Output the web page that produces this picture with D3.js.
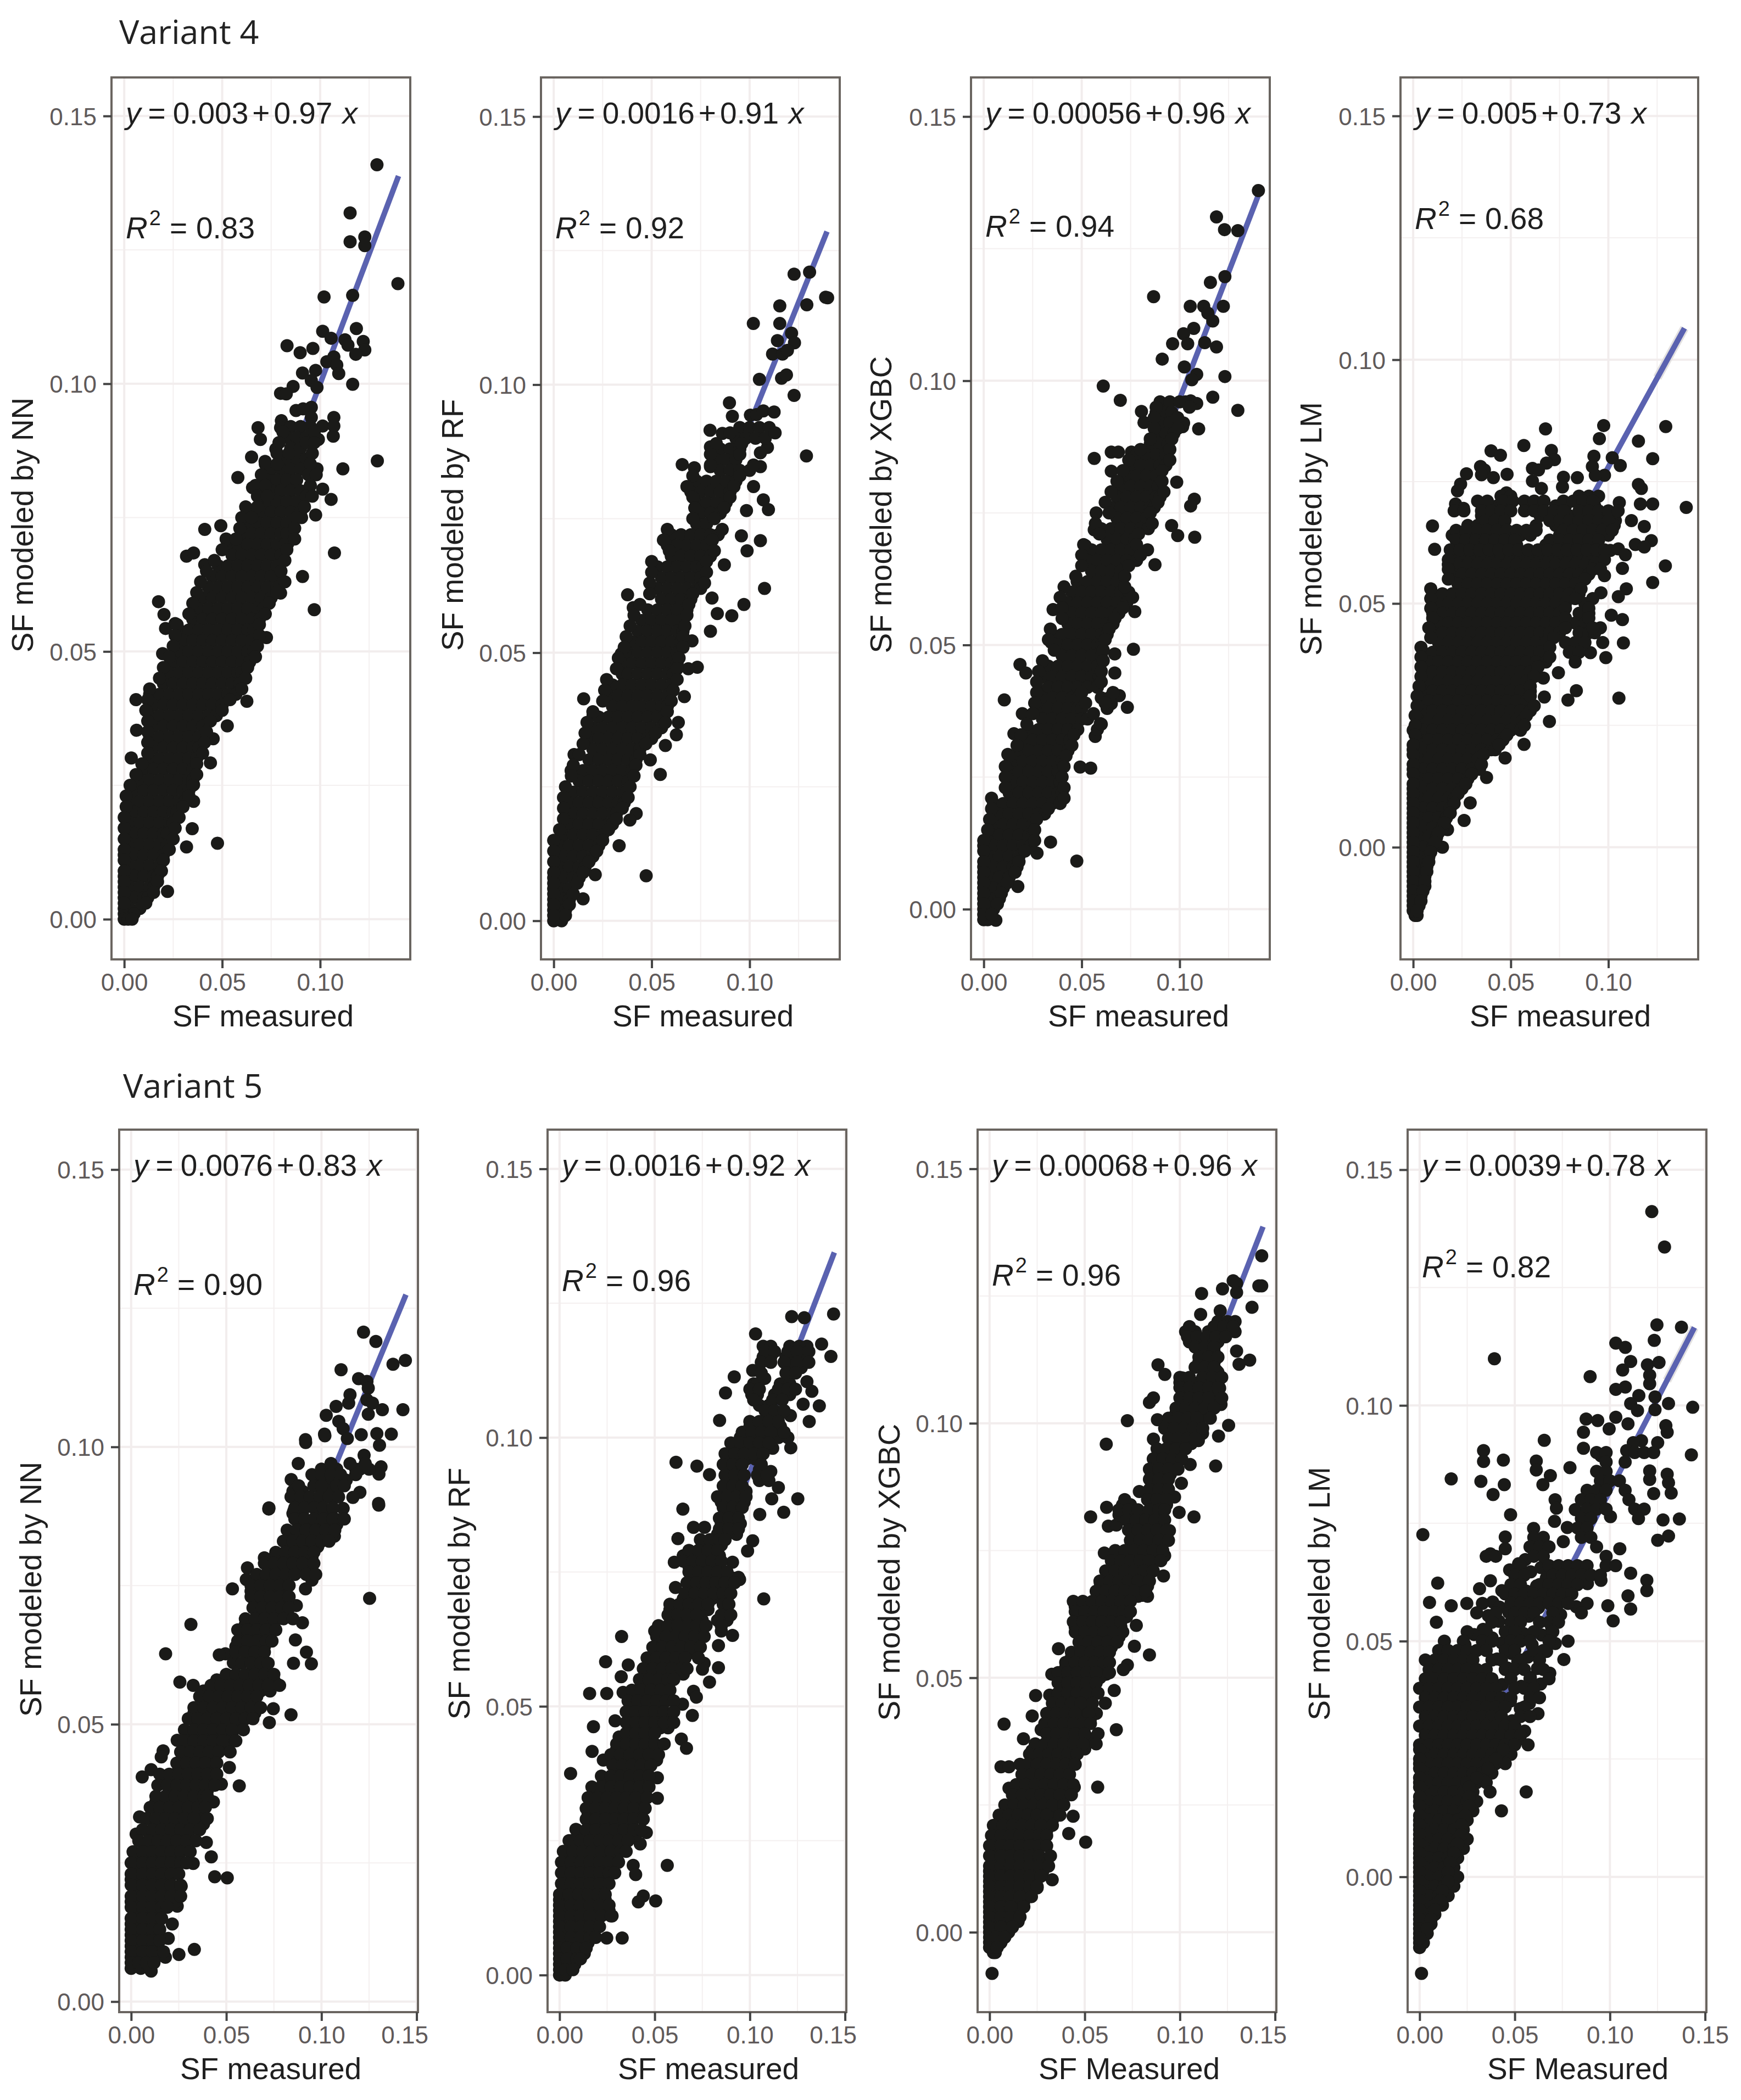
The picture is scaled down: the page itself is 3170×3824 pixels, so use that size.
<!DOCTYPE html>
<html>
<head>
  <style>
    body {
      margin: 0;
      background: #fff;
      font-family: "Liberation Sans", sans-serif;
    }
    .tick-label { font-size: 44px; fill: #5f5a5a; }
    .axis-title { font-size: 55px; fill: #1f1f1f; text-anchor: middle; }
    .note { font-size: 55px; fill: #1f1f1f; }
    .variant { font-family: "Open Sans", sans-serif; font-size: 61px; fill: #222; }
  </style>
</head>
<body>
  <script src="https://d3js.org/d3.v7.min.js"></script>
  <script>
    // all values below are SF x 1000
    // *Out: single points as [x, y]. *Core and *Fill: dense band, rows as [y, x, x, x...]
    var v4nnOut = [[129,140.9],[115.3,131.9],[115.3,126.5],[122.8,127.4],[122.8,125.8],[139.7,118.7],[116.6,116.5],[102,116.2],[118.5,110.3],[101.3,109.8],[105.6,108.5],[112.7,108.2],[114.2,107.2],[83.1,107.1],[89.8,105.8],[96.3,106.6],[122,107.9],[122.8,106.3],[118.2,105.5],[107,105],[103.4,104.1],[108.5,103.5],[109.5,101.9],[91,102],[97.7,102.5],[116.6,99.9],[95.5,100.6],[98.4,99.3],[86.2,99.5],[79.8,98.2],[82.7,98.1],[95.5,95.6],[87.7,95],[91.3,95.3],[95.5,93.7],[80.2,93.1],[79.8,91.8],[107,93.7],[101.3,92.1],[107,92.1],[106.7,90.2],[68.3,91.8],[69.5,89.6],[99.1,89.6],[77.4,87.8],[65,86.3],[71.9,85.5],[129.2,85.6],[111.6,84.1],[58,82.5],[98.4,84.1],[65.5,80.6],[101.3,80.3],[105.6,78.4],[94.1,80.3],[97.7,75.5],[90.5,75],[41.1,72.8],[49.3,73.5],[64,75.5],[107.3,68.4],[91,64],[97,57.8],[72.6,52.6],[79.8,60.9],[79,63.4],[79.8,66.5],[83.4,70.1],[31.8,67.8],[35.4,68.4],[41.1,66.2],[17.5,59.3],[20.3,56.9],[21.1,54.3],[26,55.2],[19.6,49.6],[6,41],[6.3,35.3],[3.6,30.1],[2.4,22.4],[47.6,14.2],[31.8,13.5],[22.1,5.2],[34.7,16.9],[62.6,40.7],[52.6,36.1],[45.4,33.7],[44,29.2],[35.4,25.1],[35.4,22]];
    var v4nnCore = [[92,85,90,95],[90,83,88,93],[88,85,90],[86,83,88,93],[84,75,80,85,90],[82,73,78,83,88],[80,70,75,80,85,90],[78,73,78,83,88],[76,70,75,80,85,90],[74,63,68,73,78,83],[72,60,65,70,75,80,83],[70,53,58,63,68,73,78,82],[68,55,60,65,70,75,80],[66,48,53,58,63,68,73,78],[64,45,50,55,60,65,70,75],[62,43,48,53,58,63,68,73,78],[60,40,45,50,55,60,65,70,75],[58,38,43,48,53,58,63,68,71],[56,35,40,45,50,55,60,65,69],[54,28,33,38,43,48,53,58,63,66],[52,30,35,40,45,50,55,60,65],[50,28,33,38,43,48,53,58,63,66],[48,25,30,35,40,45,50,55,60,64],[46,23,28,33,38,43,48,53,58,60],[44,20,25,30,35,40,45,50,55,59],[42,13,18,23,28,33,38,43,48,53,57],[40,15,20,25,30,35,40,45,50],[38,13,18,23,28,33,38,43,47],[36,15,20,25,30,35,40],[34,13,18,23,28,33,38],[32,15,20,25,30,35,38],[30,13,18,23,28,33,37],[28,10,15,20,25,30,35],[26,8,13,18,23,28,33,35],[24,5,10,15,20,25,30,33],[22,3,8,13,18,23,28,31],[20,5,10,15,20,25,27],[18,3,8,13,18,23,25],[16,5,10,15,20,22],[14,3,8,13,18,22],[12,0,5,10,15,20],[10,3,8,13,18],[8,0,5,10,15,17],[6,0,3,8,13,15],[4,0,5,10,12],[2,0,3,8],[1,0,5],[0,0,2,4]];
    var v4nnFill = [[91,81,97],[89,79,93,97],[87,78,84,96],[85,72,78,95],[83,70,94,98],[81,67,72,95],[79,68,73,93,96],[77,62,68,92],[75,60,65,88],[73,59,87],[71,52,57,87],[69,50,83],[67,46,82],[65,42,80],[63,39,82],[61,37,78],[59,35,74],[57,33,72],[55,27,69],[53,26,69],[51,25,68],[49,23,67],[47,20,63],[45,18,62],[43,13,60],[41,12,54],[39,11,50],[37,12,44],[35,12,42],[33,12,41],[31,12,40],[29,9,37],[27,6,37],[25,3,35],[23,1,33],[21,1,30],[19,0,28],[17,0,26],[15,0,25],[13,0,23],[11,0,20],[9,0,19],[7,0,17],[5,0,15],[3,0,11]];

    var v4rfOut = [[139.8,116.2],[129.2,114.9],[115.4,114.7],[101.9,111.4],[115.4,111.4],[122.7,120.6],[121.4,109.6],[114.2,108.2],[122.9,107.8],[111.7,105.7],[116.8,105.7],[119.3,106.4],[105,101],[116.3,101.2],[118.8,101.8],[122.7,98],[89.7,96.6],[100.4,94.3],[103.5,94.4],[107,95.1],[112.5,94.9],[91.2,94.1],[79.8,91.5],[86.1,90.9],[129,86.7],[109.1,88.3],[105.5,87.3],[105.5,84.7],[65.6,85.1],[71.8,84.5],[80,88.4],[80,84.7],[102,81],[107,78.5],[109.6,76.7],[98.4,76.5],[95.8,71.8],[105.5,70.9],[98.7,69],[87.1,66.4],[107.6,62],[97.1,59],[90.9,56.9],[83.5,57.3],[80,54],[80.8,60.2],[70.6,52.2],[73.3,47.3],[68.7,47],[66.7,41.8],[37.7,60.8],[40.6,58.4],[34.5,49.8],[15.3,41.4],[63.6,37],[62.6,34.7],[57,32.7],[49.3,30],[54.4,27.3],[42.1,20],[38.9,18.8],[33.4,14],[47.2,8.4],[21.2,8.6],[15,4.1],[10.4,31],[8.9,28],[20.1,38.4],[130.6,121],[138.8,116.3]];
    var v4rfCore = [[92,95,100,105,110],[90,93,98,103,108],[88,85,90,95],[86,83,88,93],[84,85,90,95,100],[82,73,78,83,88,93],[80,70,75,80,85,90],[78,73,78,83,88],[76,75,80,85],[74,73,78],[72,60,65,70,75,80,84],[70,58,63,68,73,78],[68,60,65,70,75,80],[66,53,58,63,68,73,76],[64,55,60,65,70,75],[62,53,58,63,68,73,75],[60,55,60,65,70],[58,48,53,58,63,68],[56,45,50,55,60,65],[54,43,48,53,58,63,66],[52,40,45,50,55,60,65],[50,38,43,48,53,58,63],[48,35,40,45,50,55,60,63],[46,35,38,43,48,53,58,61],[44,30,35,40,45,50,55,60],[42,28,33,38,43,48,53,58],[40,30,35,40,45,50,55,58],[38,23,28,33,38,43,48,53,56],[36,20,25,30,35,40,45,50,55],[34,18,23,28,33,38,43,48,50],[32,20,25,30,35,40,44],[30,18,23,28,33,38,42],[28,11,15,20,25,30,35,40],[26,13,18,23,28,33,38],[24,10,15,20,25,30,35,37],[22,8,13,18,23,28,33,36],[20,10,15,20,25,30,32],[18,8,13,18,23,28,30],[16,5,10,15,20,25],[14,3,8,13,18,23],[12,5,10,15,20],[10,3,8,13,16],[8,0,5,10,13],[6,0,3,8],[4,0,5,8],[2,0,3,6],[0,0,4]];
    var v4rfFill = [[91,90,113],[89,83,96],[87,80,95],[85,80,102],[83,71,95],[81,68,92],[79,71,90],[77,72,87],[75,71,82],[73,58,86],[71,56,81],[69,59,82],[67,50,78],[65,50,78],[63,49,77],[61,49,71],[59,44,69],[57,41,68],[55,39,67],[53,37,66],[51,36,66],[49,33,64],[47,32,63],[45,27,63],[43,26,61],[41,25,60],[39,20,58],[37,17,57],[35,16,52],[33,15,47],[31,13,44],[29,10,42],[27,9,41],[25,6,39],[23,5,38],[21,5,35],[19,5,32],[17,3,28],[15,0,25],[13,0,22],[11,0,18],[9,0,15],[7,0,12],[5,0,10],[3,0,8],[1,0,6]];

    var v4xgOut = [[140.2,136],[118.8,131],[122.9,128.6],[129.7,128.4],[115.7,118.6],[123.1,119.7],[86.7,115.9],[105.4,114.1],[112.3,114.1],[122.3,114.1],[114.4,112.8],[116.9,111.3],[107.2,109.9],[102,108.9],[96.4,107],[104.1,107],[112.8,107.2],[118.8,106.4],[91.1,104.1],[102.4,102.6],[108.7,101.2],[106.2,100.2],[123.1,100.8],[61,99],[69.7,96.3],[116.9,96.9],[129.7,94.4],[108.7,95.7],[105.6,96.2],[109.7,90.9],[101.5,91.3],[80.5,94.2],[81.8,92.1],[56.4,85.3],[65.1,86.5],[68.7,86.5],[75.4,86.5],[65.1,82.9],[98.5,80.8],[107.5,77.6],[105.6,76.3],[95.9,72.6],[99,70.7],[107.7,70.4],[83.6,68],[87.4,65.2],[77.1,56.3],[76.4,49.2],[66.9,48.3],[66.9,44.7],[73.3,38.2],[69.2,40.4],[65.1,38.9],[49.2,26.9],[54.6,26.7],[34.1,12.7],[47.5,9.1],[27.2,10.6],[10.5,39.6],[18.5,46.3],[21.5,44.7],[19.7,37],[15.4,33.2],[12.3,29.3],[35.4,56.7],[57.4,75],[56.4,71.8],[51.8,68.8],[47.7,62],[34.4,50.5],[28.7,44.7],[28.2,41.3],[56.9,32.7],[59.5,35.1],[17.4,4.3],[6.2,-2.1]];
    var v4xgCore = [[96,90,95,100,103],[94,88,93,96],[92,90,95,100,102],[90,88,93,97],[88,85,90,94],[86,78,83,88,93],[84,75,80,85,90,93],[82,73,78,83,88],[80,70,75,80,85,89],[78,68,73,78,83,88,90],[76,65,70,75,80,85,87],[74,68,73,78,83],[72,60,65,70,75,80,84],[70,63,68,73,77],[68,55,60,65,70,75],[66,53,58,63,68,73,78],[64,55,60,65,70],[62,48,53,58,63,68],[60,45,50,55,60,65,70,74],[58,43,48,53,58,63,68,73],[56,45,50,55,60,65,69],[54,43,48,53,58,63,66],[52,35,40,45,50,55,60,63],[50,38,43,48,53,58,60],[48,40,45,50,55,60],[46,33,38,43,48,53,58],[44,30,35,40,45,50,55,59],[42,33,38,43,48,53,58],[40,30,35,40,45,48,60,64],[38,28,33,38,43,48,50,63],[36,30,35,40,45,50,53],[34,23,28,33,38,43,48,58],[32,20,25,30,35,40,44],[30,18,23,28,33,38,43],[28,15,20,25,30,35,40],[26,13,18,23,28,33,38],[24,15,20,25,30,35,39],[22,13,18,23,28,33,38,40],[20,5,10,15,20,25,30,35,39],[18,8,13,18,23,28,31],[16,5,10,15,20,25],[14,3,8,13,18,23,25],[12,0,5,10,15,20,24],[10,3,8,13,18],[8,0,5,10,15,17],[6,0,3,8,13],[4,0,5,10],[2,0,3,8],[0,0,5],[-2,0,2]];
    var v4xgFill = [[95,88,105],[93,87,99],[91,87,99],[89,85,96],[87,80,95],[85,74,95],[83,71,91],[81,68,91],[79,65,92],[77,62,89],[75,64,85],[73,57,86],[71,59,79],[69,51,78],[67,50,80],[65,50,74],[63,47,72],[61,41,72],[59,39,76],[57,40,71],[55,40,67],[53,34,64],[51,33,62],[49,36,61],[47,30,61],[45,28,60],[43,27,60],[41,27,50,66],[39,26,52,62],[37,25,56],[35,22,60],[33,19,46],[31,17,45],[29,13,42],[27,11,41],[25,11,40],[23,11,41],[21,4,41],[19,4,33],[17,3,27],[15,2,26],[13,0,26],[11,0,21],[9,0,18],[7,0,16],[5,0,12],[3,0,9],[1,0,7],[-1,0,4]];

    var v4lmOut = [[67.8,85.8],[97.6,86.5],[129.4,86.3],[95.4,83.8],[56.7,82.4],[39.9,81.3],[44.7,80.4],[115.4,83.3],[70.8,81.4],[122.7,79.7],[72.4,79.5],[68.3,78.8],[92.6,80.2],[102,79.9],[106.1,78.3],[91.8,78.1],[61.1,77.7],[64.2,77.4],[34.5,78.1],[36.5,77.4],[27.3,76.6],[35,76.4],[41.1,75.8],[48.1,76.5],[61.1,75.1],[98,76.3],[93.3,76.3],[77,75.9],[84.1,75.8],[65.7,73.6],[24.3,74.5],[22.7,73.1],[115.4,74.4],[116.9,73.6],[76.5,73.9],[116.4,70.4],[122.7,70.4],[139.9,69.7],[105.6,70.7],[21.7,70.4],[25.8,69.5],[47.8,72.7],[47.3,68.8],[111.8,67],[118.4,65.8],[103.6,67],[9.9,65.9],[11,61.1],[122,62.9],[113.8,62.1],[118.4,61.6],[101,60.9],[105.1,61.2],[108.7,60],[107.2,57.2],[129.2,57.7],[122.7,54.3],[98,55.7],[96.2,52.2],[109.2,53],[105.1,51.4],[101.5,47.6],[107.2,46.7],[95.9,45],[97.1,42],[107.7,41.9],[98.7,38.9],[90.8,39.9],[74.4,35.8],[83.6,32.1],[79.3,30.2],[105.4,30.6],[69.8,25.8],[66.7,34.7],[67.2,30.8],[56.8,21.1],[47.1,18.3],[37.6,14.3],[29.2,9.1],[26.1,5.5],[17.6,3.6],[15,0]];
    var v4lmCore = [[72,45,50,85,90,95],[70,38,43,58,63,73,78,88,93],[68,35,40,45,65,70,80,85,90,95],[66,28,33,38,43,63,73,78,83,88,93,103],[64,20,25,30,35,40,45,50,55,60,75,80,85,90,95,100],[62,23,28,33,38,43,48,53,68,73,78,83,88,93],[60,20,25,30,35,40,45,50,55,60,65,70,75,80,85,90,95],[58,18,23,28,33,38,43,48,53,58,63,68,73,78,83,88,93],[56,20,25,30,35,40,45,50,55,60,65,70,75,80,85,90],[54,23,28,33,38,43,48,53,58,63,68,73,78,83],[52,10,15,20,25,30,35,40,45,50,55,60,65,70,75,80,85],[50,13,18,23,28,33,38,43,48,53,58,63,68,73,78,88],[48,10,15,20,25,30,35,40,45,50,55,60,65,70,75,85,90],[46,13,18,23,28,33,38,43,48,53,58,63,68,73,83,88],[44,10,15,20,25,30,35,40,45,50,55,60,65,70,75,85,90,93],[42,13,18,23,28,33,38,43,48,53,58,63,68,78,83,88],[40,5,10,15,20,25,30,35,40,45,50,55,60,65,80,85],[38,8,13,18,23,28,33,38,43,48,53,58,63,68,83],[36,5,10,15,20,25,30,35,40,45,50,55,60],[34,8,13,18,23,28,33,38,43,48,53,58],[32,5,10,15,20,25,30,35,40,45,50,55,60],[30,3,8,13,18,23,28,33,38,43,48,53,58],[28,5,10,15,20,25,30,35,40,45,50,55,60],[26,3,8,13,18,23,28,33,38,43,48,53,56],[24,0,5,10,15,20,25,30,35,40,45,50,55],[22,3,8,13,18,23,28,33,38,43,46],[20,0,5,10,15,20,25,30,35,40,42],[18,3,8,13,18,23,28,33],[16,0,5,10,15,20,25,30,34],[14,3,8,13,18,23,28],[12,0,5,10,15,20,25],[10,0,3,8,13,18,21],[8,0,5,10,15,19],[6,0,3,8,13,17],[4,0,5,10,15],[2,0,3,8,12],[0,0,5,10],[-2,0,3,8],[-4,0,5,7],[-6,0,3,6],[-8,0,5,6],[-10,0,3,4],[-12,0,3],[-14,1,2]];
    var v4lmFill = [[71,33,38,46,51,57,62,67,77,82,87,92],[69,21,26,35,40,45,50,57,62,67,72,77,85,90,95,100,105],[67,37,42,47,70,75,80,85,90,95,100],[65,22,27,33,38,43,48,53,58,63,77,82,87,92,97,102],[63,22,27,32,37,42,47,52,70,75,80,85,90,95],[61,19,24,29,34,39,44,49,54,59,64,69,74,79,84,89,94,98],[59,18,98],[57,18,92,96],[55,18,88],[53,9,86],[51,9,83,92],[49,9,78,90],[47,10,78,90],[45,8,78,92],[43,9,72],[41,4,70],[39,4,70],[37,4,64],[35,4,62],[33,3,60],[31,2,60],[29,2,62],[27,1,58],[25,1,57],[23,1,48],[21,0,44],[19,0,36],[17,0,35],[15,0,30],[13,0,27],[11,0,23],[9,0,21],[7,0,19],[5,0,16],[3,0,13],[1,0,11],[-1,0,9],[-3,0,8],[-5,0,7],[-7,0,6],[-9,0,5],[-11,0,4],[-13,0,2]];

    var v5nnOut = [[122.1,120.7],[128.6,119],[144.1,115.6],[137.6,114.9],[110.3,113.9],[119.5,112.3],[123.9,111.8],[115,109.4],[124.6,110.6],[123.9,108.5],[107.7,107.3],[102.5,105.7],[114.3,107.9],[126.8,107.9],[132,106.7],[142.8,106.7],[124.6,105.9],[109.1,104.6],[101.8,102],[91.7,100.8],[136.7,102.3],[129.1,102.4],[120.9,102.2],[130.5,100.3],[111.4,103.3],[113.6,101.5],[122.4,98.5],[87.8,97],[131.3,96.4],[130.2,95.1],[120.2,96],[84.1,94.1],[120.2,91.8],[116.5,90.9],[130.1,89.5],[111.4,88.9],[72.3,88.8],[87,91.8],[85.5,88.5],[125.3,72.7],[72.4,89],[130,89.8],[53.2,74.4],[61.1,78.2],[60.5,76.1],[91.6,101.3],[101.6,102.3],[31.4,68],[18.1,62.7],[25.6,57.6],[32.6,57],[84,51.7],[74.7,52.8],[72.6,50.3],[76.8,57.2],[94.7,60.9],[92.1,63],[85.3,61],[90,68.3],[86.8,71.4],[86.3,65.2],[95.3,76.5],[91.6,74.4],[106.8,83.9],[107.9,86.9],[49.5,62.7],[46.3,62.5],[53.7,61.1],[51.6,42.2],[47.4,39.2],[56.8,38.9],[43.2,36],[5.8,40.5],[10.5,41.8],[16.8,45.2],[15.8,44.1],[24.2,47.1],[4.4,33.3],[39.5,28.7],[42.1,26.1],[32.6,24.9],[43.9,22.5],[50.5,22.3],[26.3,20.8],[24.2,17.2],[21.6,14],[19.5,11.4],[33.2,9.4],[25.1,8.5],[10.5,5.5],[2.6,30.2]];
    var v5nnCore = [[96,100,108,118,125],[94,98,103,108,113],[92,85,90,100,105],[90,88,93,98],[88,85,90,100,105],[86,88,93,98,103,108],[84,85,90,95,100,105],[82,83,88,93,98],[80,70,75,80,85,90,95],[78,73,78,83,88,93],[76,65,70,75,80,95],[74,63,68,73,78],[72,65,70,75,80],[70,68,73,78,81],[68,60,65,70,75],[66,58,63,68,71],[64,55,60,65,70],[62,63,68],[60,65,70],[58,45,50,55,60,65,70,75],[56,38,43,48,53,58,63,68,73],[54,40,45,50,55,60,63],[52,33,38,43,48,53,58,63,65],[50,35,40,45,50,55,57],[48,33,38,43,48,53],[46,30,35,40,45,50],[44,28,33,38,43],[42,25,30,35,40,43],[40,18,23,28,33,38,41],[38,20,25,30,35,40],[36,13,18,23,28,33,36],[34,15,20,25,30,35],[32,13,18,23,28,33,38],[30,10,15,20,25,30],[28,8,13,18,23,28],[26,2,5,10,15,20,25],[24,3,8,13,18,23],[22,0,5,10,15,20],[20,3,8,13,18,22],[18,0,5,10,15,20,23],[16,3,8,13,15],[14,0,5,10,14],[12,0,3,8,12],[10,0,5,10,13],[8,0,3,8,13,18],[6,0,5,10]];
    var v5nnFill = [[97,105,115,123],[95,95,100,105,110,118],[93,88,96,100,108,112],[91,84,89,94,99,104,109],[89,86,91,96,101,106],[87,86,91,96,101,106,112],[85,82,87,92,97,102,107],[83,80,85,90,95,100,104],[81,76,81,86,91,96],[79,70,75,80,85,90,96],[77,66,71,76,81,86,92,97],[75,63,68,73,78,83],[73,63,68,73,78,83],[71,64,69,74,79,83],[69,60,65,70,75,80,85],[67,56,61,66,71,76],[65,56,61,66,71,74],[63,55,60,65,70],[61,58,63,68,72],[59,50,55,60,65,70,75],[57,42,47,52,57,62,67,72,78],[55,36,41,46,51,56,61,66],[53,33,38,43,48,53,58,63,68],[51,30,35,40,45,50,55,60,64],[49,28,33,38,43,48,53,59],[47,28,33,38,43,48,55],[45,26,31,36,41,46,52],[43,24,29,34,39,45],[41,15,20,25,30,35,40,45],[39,14,19,24,29,34,39,44],[37,13,18,23,28,33,38,40],[35,10,15,20,25,30,35,39],[33,8,13,18,23,28,33,40],[31,6,11,16,21,26,31,36],[29,4,9,14,19,24,29,34],[27,1,6,11,16,21,26,31],[25,0,6,11,16,21,26,29],[23,0,6,11,16,21,25],[21,0,6,11,16,21,26],[19,0,6,11,16,21,26],[17,0,6,11,16,19],[15,0,6,11,16],[13,0,6,11,15],[11,0,6,11,15],[9,0,6,11,17],[7,0,4,8,12]];

    var v5rfOut = [[144,123],[122,122.5],[128.6,122.3],[103,119.3],[137.7,117.4],[142.6,115.1],[101.5,112.5],[91.8,111.3],[87.2,108.3],[107.8,111],[130,110.4],[132.6,108.6],[128,106.2],[136.5,105.9],[121.3,104.1],[84.1,103.2],[131.2,103],[116,102.1],[121.5,98.1],[61.2,95.4],[72.2,94.7],[78.8,93.1],[111,93.7],[115,90.7],[125.2,88.6],[111.5,88.6],[117.8,86.1],[105.2,85.7],[64.8,86.7],[70.4,83.3],[76.2,83.3],[77.7,80.6],[62.2,81.2],[101.5,80.8],[98.8,78.9],[60.3,76.8],[90.9,76.8],[94.6,73.6],[107.3,70],[60.9,72.1],[90.9,63.2],[83.5,61.3],[32.6,63],[24.2,58.3],[36.1,57.7],[32.4,55.5],[15.8,52.4],[24.8,52.4],[33.4,52.6],[83.5,57.2],[78.8,54.5],[75.1,56.9],[70.4,52.8],[71.9,51.7],[64.6,50.4],[69.8,48.3],[29.2,47.3],[17.8,46.2],[31.3,44.3],[64,43.9],[66.7,42.2],[17.1,41.6],[5.8,37.5],[51.4,36.7],[51.4,32.9],[45.6,26.5],[56.6,20.4],[38.7,20.4],[40,18.7],[44,14.7],[41.4,13.6],[50.5,13.8],[32.9,6.9],[24.8,6.9],[27.6,11],[42.4,24.4],[5,25],[8.6,27.1]];
    var v5rfCore = [[117,107,111,121,126,130],[115,107,111,119,124,129],[113,122,127],[110,102,104,116,121],[108,101,104,113,118,121],[106,105,110],[104,110,115],[102,100,105,111,116],[100,95,100,105,110,115,120],[98,93,98,103,108,112],[96,88,93,98,103,105],[94,90,95,105],[92,88,93,105,110],[90,88,93,98],[88,85,90,95,97],[86,88,93],[84,85,90,95],[82,83,88,93],[80,75,80,85],[78,65,70,75,80,84],[76,68,73,78,82],[74,70,75,80,85,90,94],[72,68,73,78,83,88],[70,65,70,75,80,85,88],[68,58,63,68,73,78,88],[66,60,65,70,75,83,88],[64,50,55,60,65,70,75,85],[62,53,58,63,68,73],[60,50,55,60,65,70],[58,48,53,58,63,76],[56,45,50,55,60,65],[54,43,48,53,57],[52,40,45,50,55],[50,38,43,48,53],[48,40,45,50,55],[46,38,43,48,53,57],[44,40,45,48],[42,30,35,40,45,50],[40,23,28,33,38,43,48,51],[38,30,35,40,45],[36,23,28,33,38,43],[34,20,25,30,35,40,45],[32,18,23,28,33,38,43],[30,15,20,25,30,35,40],[28,18,23,28,33,38],[26,10,15,20,25,30,35,40],[24,8,13,18,23,28,33],[22,5,10,15,20,25,30],[20,3,8,13,18,23,28],[18,5,10,15,20,25],[16,3,8,13,18,22],[14,0,5,10,15,20,24],[12,0,3,8,13,18,23,26],[10,0,5,10,15,20],[8,0,3,8,13,18],[6,0,5,10,15],[4,0,3,8,13],[2,0,5,8],[0,0,3]];
    var v5rfFill = [[116,108,113,120,125,131],[114,106,111,118,125,131],[112,106,119,124],[109,100,105,115,120,124],[107,102,112,117],[105,108,113,118],[103,100,105,110,115],[101,96,101,106,111,118],[99,90,95,100,105,110],[97,87,92,97,102,107],[95,86,91,96,106],[93,87,92,97,104,109],[91,86,91,96],[89,83,88,93,98],[87,86,91,96],[85,84,89,94],[83,84,89,94],[81,74,79,84,87],[79,68,73,78,83],[77,65,70,75,80,85],[75,68,73,78,83,88],[73,67,72,77,82,87,92],[71,66,71,76,81,86,90],[69,58,63,68,73,78,86,89],[67,57,62,67,72,85,90],[65,52,57,62,67,72,77,85],[63,51,56,61,66,71,76],[61,49,54,59,64,69,74],[59,46,51,56,61,66,73],[57,44,49,54,59,64,67],[55,42,47,52,57,60],[53,38,43,48,53,58],[51,36,41,46,51,56,60],[49,35,40,45,50,55,60],[47,35,40,45,50,55,60],[45,35,40,45,50],[43,30,35,40,45,50,55],[41,27,32,37,42,47,52],[39,28,33,38,43,48],[37,22,27,32,37,42,47],[35,17,22,27,32,37,42,47],[33,15,20,25,30,35,40,46],[31,14,19,24,29,34,39,45],[29,14,19,24,29,34,39,44],[27,9,14,19,24,29,34,39,43],[25,6,11,16,21,26,31,36],[23,2,7,12,17,22,27,32,35],[21,1,6,11,16,21,26,31],[19,1,6,11,16,21,26,29],[17,1,6,11,16,21,26],[15,0,5,10,15,20,24],[13,0,6,11,16,21,26],[11,0,6,11,16,22,27],[9,0,6,11,16,21],[7,0,6,11,16,19],[5,0,4,9,14],[3,0,4,9,11],[1,0,3,7]];

    var v5xgOut = [[143,132.9],[141.5,127],[128,128],[143,127],[111.4,125.5],[122.4,126.4],[129.8,127.5],[129.8,125.7],[137.9,122.8],[121.2,122.1],[110.9,121.4],[129.8,114.2],[136.7,112.4],[131.1,111.6],[119.3,110.3],[88.5,111.5],[92.1,109.6],[120.9,106.9],[101.4,108.9],[86.1,105],[84,104.1],[121.6,103.7],[88.2,100.7],[72.4,100.5],[125.6,99.6],[120.3,97.5],[61.3,95.9],[86.1,96.9],[111.9,98],[109.7,96.6],[118.8,91.6],[105.4,91.9],[100.8,88.2],[97.2,85.5],[99.6,82.5],[107.4,81.6],[78.7,86.6],[61.5,83.5],[53.1,81.6],[62.4,79.8],[66.6,80],[69.8,83.9],[94.5,78.9],[60.3,74.5],[91.4,70],[58.2,68.6],[80.3,66.2],[77.1,60.3],[76.1,56.2],[84,54.5],[72.4,52.5],[70.3,51.6],[65.5,47.5],[60.8,45],[66.6,39.8],[36.2,55.7],[32.7,50.7],[24.2,46.5],[31.6,46.6],[22.4,42.5],[7.6,40.9],[17.8,38],[27.1,39.8],[6,32.5],[10.2,32.5],[16,33],[22.3,35.7],[10.2,28.3],[56.8,28.5],[43.9,22.8],[41.6,19.4],[50.5,17.7],[32.9,10.3],[25,8.7],[1.3,-8.1],[15,2.1],[5.5,-2.2],[44.5,28.5],[54,37.5],[56.1,43],[61.3,50.7]];
    var v5xgCore = [[120,120,125,129],[118,103,108,115,120,125,129],[116,105,110,115,120],[114,113,118],[112,110,115,118],[110,113,118,120],[108,100,105,110,115,120],[106,103,108,113,118],[104,105,110,115,120],[102,98,103,108,113,115],[100,95,100,105,110],[98,98,103,108,110],[96,98,103,106],[94,90,95,100],[92,88,93,98],[90,85,90,95],[88,88,93],[86,85,90],[84,70,74,88,93],[82,68,73,83,88],[80,75,80,85,90],[78,78,83,88,93],[76,75,80,85,90],[74,68,73,78,83,88,92],[72,65,70,75,80,85],[70,63,68,73,78,83],[68,60,65,70,75,80,83],[66,63,68,73,78,83],[64,45,50,55,60,65,70],[62,48,53,58,63,68,72],[60,45,50,55,60,65,69],[58,48,53,58,63,68],[56,50,55,60,64],[54,43,48,53,58],[52,40,45,50,55,60],[50,38,43,48,53,58],[48,40,45,50,54],[46,38,43,48,53],[44,35,40,45,50],[42,33,38,43,48,53],[40,30,35,40,45],[38,33,38,43,48,53],[36,25,30,35,40,45,50],[34,23,28,33,38,43],[32,25,30,35],[30,18,23,28,33,36],[28,20,25,30,35,40],[26,13,18,23,28,33,38],[24,15,20,25,30,35],[22,8,13,18,23,28,33],[20,5,10,15,20,25,30],[18,3,8,13,18,23,28],[16,5,10,15,20,25],[14,3,8,13,18,23,28],[12,0,5,10,15,20,25,28],[10,0,3,8,13,18,23],[8,0,5,10,15,20],[6,0,3,8,13,18],[4,0,5,10,15],[2,0,3,8,13],[0,0,5,10],[-2,0,3,6],[-4,2,3]];
    var v5xgFill = [[119,105,118,123,128],[117,104,109,114,119,124],[115,108,113,118],[113,110,115,120],[111,108,113,118],[109,100,105,112,117,122],[107,100,105,110,115,120],[105,100,105,110,115,122],[103,98,103,108,113,118],[101,94,99,104,109,116],[99,92,97,102,107,112],[97,94,99,104,108],[95,88,93,98,103],[93,86,91,96,101],[91,84,89,94,99],[89,84,89,94],[87,84,89,94],[85,71,83,88,93],[83,68,73,78,84,89,92],[81,72,77,82,87,92],[79,73,78,83,88,93],[77,74,79,84,89,94],[75,66,71,76,81,86,91],[73,64,69,74,79,84,90],[71,61,66,71,76,81,86],[69,58,63,68,73,78,84],[67,56,61,66,71,76,82],[65,44,49,54,59,64,69,74],[63,45,50,55,60,65,70,74],[61,44,49,54,59,64,69],[59,45,50,55,60,65,70],[57,47,52,57,62,67],[55,43,48,53,58,63],[53,40,45,50,55,60,63],[51,36,41,46,51,56,63],[49,36,41,46,51,56],[47,36,41,46,51,57],[45,33,38,43,48,54],[43,30,35,40,45,52],[41,29,34,39,44,49,53],[39,30,35,40,45,50,57],[37,24,29,34,39,44,49,56],[35,21,26,31,36,41,46],[33,20,25,30,35,40,45],[31,17,22,27,32,37,42],[29,14,19,24,29,34,39,44],[27,12,17,22,27,32,37,43],[25,8,13,18,23,28,33,39],[23,5,10,15,20,25,30,37],[21,2,7,12,17,22,27,33],[19,1,6,11,16,21,26,30],[17,0,6,11,16,21,26,30],[15,0,6,11,16,21,26,32],[13,0,6,11,16,21,26,31],[11,0,6,11,16,21,27],[9,0,6,11,16,21,25],[7,0,6,11,16,22],[5,0,6,11,18],[3,0,6,11,16],[1,0,6,12],[-1,0,3,8],[-3,0,4]];

    var v5lmOut = [[122,141.1],[128.7,133.6],[124.7,117.1],[137.6,116.6],[123.3,113.8],[103.1,113.2],[108.1,112.3],[39.3,109.9],[110.9,109.3],[119.7,108.6],[125.8,109.1],[106.7,107.5],[89.6,106.1],[120.9,106.4],[120.9,104.6],[108.1,103.9],[103.1,103.4],[115.2,102.1],[123.7,101.8],[130.8,100.4],[143.5,99.6],[110.9,100.4],[123.7,99.1],[114.5,98.9],[87.5,97.1],[93.6,96.8],[103.1,97.5],[109.5,96.1],[129.4,95.7],[130.1,94.3],[86.1,94.3],[99.6,95],[65.5,92.6],[116.6,92.5],[125.1,92.1],[112.3,92.1],[86.1,90.9],[142.8,89.5],[33.6,90.4],[33.6,88.1],[44,88.4],[61.3,88.2],[95.3,89.3],[108.8,90.4],[61.3,86.3],[79,86.8],[16.6,84.4],[32.2,83.9],[44.5,83.2],[68.7,85.1],[64.8,83.2],[120.9,86.1],[120.9,84.3],[130.1,85.4],[130.8,83.6],[132.2,81.4],[38.6,81.1],[123,81.3],[71.2,80],[71.9,78.2],[47.8,76.8],[81.8,77.9],[127.9,75.7],[136.5,75.9],[70.9,75.4],[77.6,74.1],[1.7,72.6],[100.3,76.4],[130.8,72.3],[125.1,71.4],[45,72.1],[59.9,73.9],[75.5,71.1],[45,69.6],[37.2,68.5],[105.2,69.6],[9.5,62.3],[37.2,62.8],[31.5,61.1],[5.2,58.2],[16.6,57.5],[24.8,58],[8.8,54],[110.9,64.4],[119.4,62.9],[95.3,62.9],[88.2,62.2],[109.5,59.6],[98.9,57.5],[110.9,56.8],[101.7,54.3],[119.4,60.7],[1,-20.5],[0,-15],[55.5,67.3],[52,66.4],[47.3,65.1],[58.4,64.7],[63.8,65.6],[66.6,63.4],[61.5,61.7],[56.2,60.6],[48.6,61.3],[43.2,60.7],[38.4,58.3],[42,57.2],[36.1,55.4],[41.7,54.2],[46.9,56.1],[51.3,53.7],[57.4,55.3],[62.5,57.1],[67.2,59.2],[72.6,61.4],[77.9,59.7],[82.3,57.3],[74.1,55.6],[69.4,52.9],[64.2,51.3],[59.1,49.2],[54.7,51.6],[48.3,47.4],[43.2,49.6],[38.1,50.7],[33.4,52.5],[28.6,51.4],[23.8,49.2],[40.7,46.2],[46.1,44.3],[51.6,45.7],[56.8,46.6],[61.9,44.2],[66.7,47.8],[71.3,49.5],[75.8,46.1],[68.4,43.2],[63.6,40.9],[58.2,42.3],[53.4,40.4],[47.7,37.3],[43.4,40.8],[52.9,35.7],[57.7,36.8],[62.2,34.6],[48.6,33.1],[44.1,30.2],[50.9,28.8],[55.2,30.9]];
    var v5lmCore = [[90,93,98,113,118,123],[88,98,108],[86,93,98],[84,95,100,105],[82,88,93,98,108],[80,85,90,95,110],[78,88,93,98,113,118],[76,85,90,115],[74,83,88],[72,60,65,85,90],[70,58,63,68,93],[68,35,40,60,65,98],[66,53,68,73,78,83,88,98,103],[64,50,55,70,75,80,85,90,95],[62,48,53,63,68,73,78,83],[60,45,50,55,60,65,70,75,80],[58,33,48,53,58,63,68,73,78,88],[56,30,40,50,55,60,70,85],[54,38,48,53,63,68,73],[52,25,35,45,50,60,70],[50,13,23,33,38,48,53,58,68,78],[48,10,15,20,25,30,35,45,50,60,65],[46,3,8,13,18,23,28,38,43,53,63],[44,5,10,15,20,25,30,35,45,50,55,65],[42,3,8,13,18,23,28,33,38,48,58,68],[40,0,5,10,15,20,25,30,35,40,50,55,60],[38,3,8,13,18,23,28,33,38,43,48,58,63],[36,0,5,10,15,20,25,30,35,40,45,55],[34,3,8,13,18,23,28,33,38,43,53,58],[32,0,5,10,15,20,25,30,35,40,45,50],[30,3,8,13,18,23,28,33,38,43,48,53],[28,0,5,10,15,20,25,30,35,40,45,50,57],[26,3,8,13,18,23,28,33,38,43,48],[24,0,5,10,15,20,25,30,35,40,45],[22,3,8,13,18,23,28,33,38],[20,0,5,10,15,20,25,30,35],[18,3,8,13,18,23,28,37,56],[16,0,5,10,15,20,25,30],[14,3,8,13,18,23,28,43],[12,0,5,10,15,20,25],[10,0,3,8,13,18,23],[8,0,5,10,15,20,25],[6,0,3,8,13,18,23],[4,0,5,10,15,20],[2,0,3,8,13,18],[0,0,5,10,15,20],[-2,0,3,8,13,18],[-4,0,5,10,15],[-6,0,3,8,12],[-8,0,5,8],[-10,0,3,6],[-12,0,3,4],[-14,0,2]];
    var v5lmFill = [[27,0,44],[25,0,40],[23,0,36],[21,0,30],[19,0,26],[17,0,26],[15,0,26],[13,0,24],[11,0,22],[9,0,22],[7,0,20],[5,0,18],[3,0,16],[1,0,15],[-1,0,15],[-3,0,12],[-5,0,11],[-7,0,8],[-9,0,6],[-11,0,4],[-13,0]];

    var xTickValues = [0, 0.05, 0.1];
    var xTickValuesLong = [0, 0.05, 0.1, 0.15];
    var yTickValues = [0, 0.05, 0.1, 0.15];

    var panels = [
      {out: v4nnOut, core: v4nnCore, fill: v4nnFill, model: "NN", xName: "SF measured", eq: ["0.003", "0.97"], r2: "0.83", xMax: 140},
      {out: v4rfOut, core: v4rfCore, fill: v4rfFill, model: "RF", xName: "SF measured", eq: ["0.0016", "0.91"], r2: "0.92", xMax: 139.5},
      {out: v4xgOut, core: v4xgCore, fill: v4xgFill, model: "XGBC", xName: "SF measured", eq: ["0.00056", "0.96"], r2: "0.94", xMax: 140.1},
      {out: v4lmOut, core: v4lmCore, fill: v4lmFill, model: "LM", xName: "SF measured", eq: ["0.005", "0.73"], r2: "0.68", xMax: 139, band: true},
      {out: v5nnOut, core: v5nnCore, fill: v5nnFill, model: "NN", xName: "SF measured", eq: ["0.0076", "0.83"], r2: "0.90", xMax: 144.4},
      {out: v5rfOut, core: v5rfCore, fill: v5rfFill, model: "RF", xName: "SF measured", eq: ["0.0016", "0.92"], r2: "0.96", xMax: 144.4},
      {out: v5xgOut, core: v5xgCore, fill: v5xgFill, model: "XGBC", xName: "SF Measured", eq: ["0.00068", "0.96"], r2: "0.96", xMax: 143.7},
      {out: v5lmOut, core: v5lmCore, fill: v5lmFill, model: "LM", xName: "SF Measured", eq: ["0.0039", "0.78"], r2: "0.82", xMax: 144.4, band: true}
    ];

    // layout in page pixels, one entry per panel
    var layout = [
      {l: 203, r: 747, t: 141, b: 1747, xd: [-0.0065, 0.146], yd: [-0.0075, 0.1572], ty: 956, tx: 41, xt: 479, r2y: 434},
      {l: 985, r: 1529, t: 141, b: 1747, xd: [-0.0065, 0.146], yd: [-0.0072, 0.1573], ty: 956, tx: 824, xt: 1280, r2y: 434},
      {l: 1768, r: 2312, t: 141, b: 1747, xd: [-0.0065, 0.146], yd: [-0.0095, 0.1574], ty: 919, tx: 1604, xt: 2073, r2y: 431},
      {l: 2550, r: 3092, t: 141, b: 1747, xd: [-0.0065, 0.146], yd: [-0.023, 0.1579], ty: 963, tx: 2387, xt: 2841, r2y: 417},
      {l: 217, r: 761, t: 2057, b: 3664, xd: [-0.0063, 0.1507], yd: [-0.0019, 0.1572], ty: 2894, tx: 56, xt: 493, r2y: 2358, last: -22},
      {l: 997, r: 1541, t: 2057, b: 3664, xd: [-0.0063, 0.1507], yd: [-0.0069, 0.1573], ty: 2902, tx: 836, xt: 1290, r2y: 2351, last: -22},
      {l: 1780, r: 2324, t: 2057, b: 3664, xd: [-0.0063, 0.1507], yd: [-0.0157, 0.1577], ty: 2863, tx: 1619, xt: 2056, r2y: 2341, last: -22},
      {l: 2563, r: 3107, t: 2057, b: 3664, xd: [-0.0063, 0.1507], yd: [-0.0287, 0.1585], ty: 2902, tx: 2402, xt: 2873, r2y: 2326, last: 0}
    ];

    var svg = d3.select("body").append("svg")
      .attr("width", 3170)
      .attr("height", 3824);

    svg.append("text").attr("class", "variant").attr("x", 217).attr("y", 80).text("Variant 4");
    svg.append("text").attr("class", "variant").attr("x", 224).attr("y", 1999).text("Variant 5");

    panels.forEach(function(p, i){
      var box = layout[i];
      var topRow = i < 4;
      var x = d3.scaleLinear().domain(box.xd).range([box.l, box.r]);
      var y = d3.scaleLinear().domain(box.yd).range([box.b, box.t]);
      var g = svg.append("g");

      // grid, minor then major
      var xMajor = topRow ? xTickValues : xTickValuesLong;
      var xMinor = [0.025, 0.075, 0.125];
      var yMinor = [0.025, 0.075, 0.125];
      yMinor.forEach(function(v){
        g.append("line").attr("x1", box.l).attr("x2", box.r).attr("y1", y(v)).attr("y2", y(v))
          .attr("stroke", "#f4f0f0").attr("stroke-width", 2);
      });
      xMinor.forEach(function(v){
        g.append("line").attr("y1", box.t).attr("y2", box.b).attr("x1", x(v)).attr("x2", x(v))
          .attr("stroke", "#f4f0f0").attr("stroke-width", 2);
      });
      yTickValues.forEach(function(v){
        g.append("line").attr("x1", box.l).attr("x2", box.r).attr("y1", y(v)).attr("y2", y(v))
          .attr("stroke", "#f2eded").attr("stroke-width", 4);
      });
      xMajor.forEach(function(v){
        g.append("line").attr("y1", box.t).attr("y2", box.b).attr("x1", x(v)).attr("x2", x(v))
          .attr("stroke", "#f2eded").attr("stroke-width", 4);
      });

      // fit line from the printed equation
      var a = +p.eq[0], b = +p.eq[1], xEnd = p.xMax / 1000;
      if (p.band) {
        g.append("line")
          .attr("x1", x(xEnd * 0.9)).attr("y1", y(a + b * xEnd * 0.9))
          .attr("x2", x(xEnd)).attr("y2", y(a + b * xEnd))
          .attr("stroke", "#e2e0e0").attr("stroke-width", 16);
      }
      g.append("line")
        .attr("x1", x(0)).attr("y1", y(a))
        .attr("x2", x(xEnd)).attr("y2", y(a + b * xEnd))
        .attr("stroke", "#5a62b0").attr("stroke-width", 10);

      // points
      var pts = p.out.concat(d3.merge(p.core.concat(p.fill).map(function(row){
        return row.slice(1).map(function(v){ return [v, row[0]]; });
      })));
      g.selectAll("circle.pt").data(pts).enter().append("circle")
        .attr("class", "pt")
        .attr("cx", function(d){ return x(d[0] / 1000); })
        .attr("cy", function(d){ return y(d[1] / 1000); })
        .attr("r", 12)
        .attr("fill", "#1a1a18");

      // panel border
      g.append("rect")
        .attr("x", box.l).attr("y", box.t)
        .attr("width", box.r - box.l).attr("height", box.b - box.t)
        .attr("fill", "none").attr("stroke", "#6a6560").attr("stroke-width", 4);

      // axes
      var xAxis = d3.axisBottom(x).tickValues(xMajor).tickSize(16).tickPadding(0)
        .tickFormat(d3.format(".2f"));
      var xg = g.append("g").attr("transform", "translate(0," + box.b + ")").call(xAxis);
      xg.select(".domain").remove();
      xg.selectAll(".tick line").attr("stroke", "#444").attr("stroke-width", 4);
      xg.selectAll(".tick text").attr("class", "tick-label").attr("dy", 0)
        .attr("y", 57)
        .attr("dx", function(d){ return d === 0.15 ? box.last : 0; });

      var yAxis = d3.axisLeft(y).tickValues(yTickValues).tickSize(15).tickPadding(0)
        .tickFormat(d3.format(".2f"));
      var yg = g.append("g").attr("transform", "translate(" + box.l + ",0)").call(yAxis);
      yg.select(".domain").remove();
      yg.selectAll(".tick line").attr("stroke", "#444").attr("stroke-width", 4);
      yg.selectAll(".tick text").attr("class", "tick-label").attr("x", -27).attr("dy", 16);

      // axis titles
      var xTitleY = topRow ? 1869 : 3786;
      g.append("text").attr("class", "axis-title").attr("x", box.xt).attr("y", xTitleY).text(p.xName);
      g.append("text").attr("class", "axis-title")
        .attr("transform", "translate(" + (box.tx + 19) + "," + box.ty + ") rotate(-90)")
        .text("SF modeled by " + p.model);

      // equation
      var eqX = box.l + 26, eqY = topRow ? 225 : 2141;
      var eq = g.append("text").attr("class", "note").attr("x", eqX).attr("y", eqY);
      eq.append("tspan").attr("font-style", "italic").text("y");
      eq.append("tspan").attr("dx", 13).text("=");
      eq.append("tspan").attr("dx", 13).text(p.eq[0]);
      eq.append("tspan").attr("dx", 7).text("+");
      eq.append("tspan").attr("dx", 7).text(p.eq[1]);
      eq.append("tspan").attr("dx", 18).attr("font-style", "italic").text("x");

      var rr = g.append("text").attr("class", "note").attr("x", eqX).attr("y", box.r2y);
      rr.append("tspan").attr("font-style", "italic").text("R");
      rr.append("tspan").attr("dx", 3).attr("dy", -24).attr("font-size", 38).text("2");
      rr.append("tspan").attr("dx", 16).attr("dy", 24).text("=");
      rr.append("tspan").attr("dx", 16).text(p.r2);
    });
  </script>
</body>
</html>
